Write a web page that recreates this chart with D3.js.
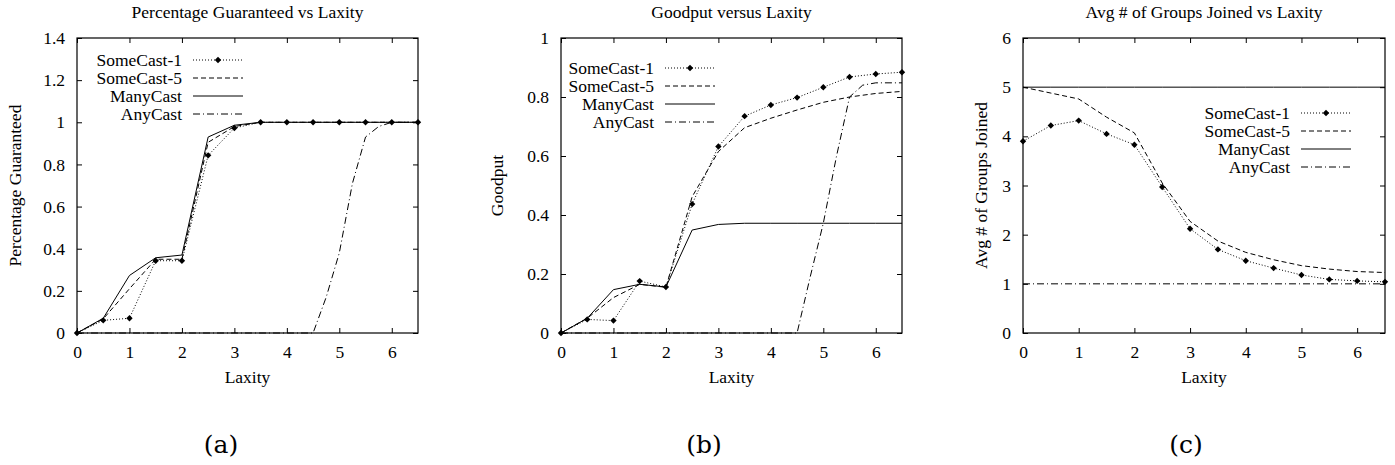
<!DOCTYPE html>
<html lang="en">
<meta charset="utf-8">
<head>
    <script src="https://d3js.org/d3.v7.min.js"></script>
    <style>
        body { margin: 0; background: #fff; }
        text { font-family: "Liberation Serif", "Times New Roman", serif; }
    </style>
</head>
<body>
<div id="chart"></div>
<script>
// laxity values for the series sampled every 0.5
const laxity = [0, 0.5, 1, 1.5, 2, 2.5, 3, 3.5, 4, 4.5, 5, 5.5, 6, 6.5];
const seriesNames = ['SomeCast-1', 'SomeCast-5', 'ManyCast', 'AnyCast'];
const xTicks = [0, 1, 2, 3, 4, 5, 6];

// (a) Percentage Guaranteed
const pgSome1 = [0, 0.06, 0.07, 0.343, 0.343, 0.843, 0.973, 1, 1, 1, 1, 1, 1, 1];
const pgSome5 = [0, 0.067, 0.21, 0.35, 0.35, 0.905, 0.98, 1, 1, 1, 1, 1, 1, 1];
const pgMany  = [0, 0.07, 0.273, 0.357, 0.37, 0.93, 0.986, 1, 1, 1, 1, 1, 1, 1];
const pgAnyLax = [0, 4.5, 4.75, 5, 5.25, 5.5, 5.75, 6, 6.5];
const pgAny    = [0, 0, 0.17, 0.38, 0.71, 0.93, 0.98, 1, 1];
const pgYTicks = [0, 0.2, 0.4, 0.6, 0.8, 1, 1.2, 1.4];

// (b) Goodput
const gpSome1 = [0, 0.046, 0.042, 0.176, 0.156, 0.437, 0.632, 0.735, 0.773, 0.798, 0.833, 0.868, 0.878, 0.884];
const gpSome5 = [0, 0.05, 0.12, 0.165, 0.155, 0.462, 0.615, 0.696, 0.728, 0.756, 0.782, 0.80, 0.812, 0.819];
const gpMany  = [0, 0.05, 0.147, 0.165, 0.156, 0.349, 0.368, 0.372, 0.372, 0.372, 0.372, 0.372, 0.372, 0.372];
const gpAnyLax = [0, 4.5, 4.75, 5, 5.25, 5.5, 5.75, 6, 6.5];
const gpAny    = [0, 0, 0.19, 0.372, 0.598, 0.80, 0.84, 0.848, 0.848];
const gpYTicks = [0, 0.2, 0.4, 0.6, 0.8, 1];

// (c) Avg # of Groups Joined
const grSome1 = [3.90, 4.22, 4.32, 4.05, 3.83, 2.97, 2.12, 1.70, 1.47, 1.32, 1.18, 1.09, 1.06, 1.04];
const grSome5 = [5.0, 4.88, 4.76, 4.39, 4.07, 3.05, 2.27, 1.87, 1.64, 1.49, 1.37, 1.30, 1.25, 1.23];
const grMany  = [5, 5, 5, 5, 5, 5, 5, 5, 5, 5, 5, 5, 5, 5];
const grAnyLax = [0, 6.5];
const grAny    = [1, 1];
const grYTicks = [0, 1, 2, 3, 4, 5, 6];

const zip = (xs, ys) => xs.map((x, i) => ({ x: x, y: ys[i] }));

const panels = [
    { title: 'Percentage Guaranteed vs Laxity', ylabel: 'Percentage Guaranteed', tag: '(a)',
      left: 77, right: 418, ymax: 1.4, yTicks: pgYTicks, fmt: d3.format('~g'),
      series: [zip(laxity, pgSome1), zip(laxity, pgSome5), zip(laxity, pgMany), zip(pgAnyLax, pgAny)],
      legX: 182, legY: 60, ylabX: 20.5, tagX: 221 },
    { title: 'Goodput versus Laxity', ylabel: 'Goodput', tag: '(b)',
      left: 561, right: 902, ymax: 1, yTicks: gpYTicks, fmt: d3.format('~g'),
      series: [zip(laxity, gpSome1), zip(laxity, gpSome5), zip(laxity, gpMany), zip(gpAnyLax, gpAny)],
      legX: 654, legY: 68, ylabX: 503, tagX: 704 },
    { title: 'Avg # of Groups Joined vs Laxity', ylabel: 'Avg # of Groups Joined', tag: '(c)',
      left: 1023, right: 1385, ymax: 6, yTicks: grYTicks, fmt: d3.format('d'),
      series: [zip(laxity, grSome1), zip(laxity, grSome5), zip(laxity, grMany), zip(grAnyLax, grAny)],
      legX: 1290, legY: 113, ylabX: 987, tagX: 1186 }
];

const plotTop = 38, plotBottom = 333;
const fs = 17.5;
const dashes = ['1,2', '5,3', null, '7,3,1,3'];
const diamond = d3.symbol().type(d3.symbolDiamond2).size(26);

const svg = d3.select('#chart').append('svg')
    .attr('width', 1395).attr('height', 465);

panels.forEach(p => {
    const x = d3.scaleLinear().domain([0, 6.5]).range([p.left, p.right]);
    const y = d3.scaleLinear().domain([0, p.ymax]).range([plotBottom, plotTop]);
    const g = svg.append('g');
    const cx = (p.left + p.right) / 2;

    // ticks on all four sides, pointing in
    const bx = g.append('g').attr('transform', `translate(0,${plotBottom})`)
        .call(d3.axisBottom(x).tickValues(xTicks).tickSize(-5).tickPadding(12.5).tickFormat(d3.format('d')));
    const tx = g.append('g').attr('transform', `translate(0,${plotTop})`)
        .call(d3.axisTop(x).tickValues(xTicks).tickSize(-5).tickFormat(''));
    const ly = g.append('g').attr('transform', `translate(${p.left},0)`)
        .call(d3.axisLeft(y).tickValues(p.yTicks).tickSize(-5).tickPadding(12).tickFormat(p.fmt));
    const ry = g.append('g').attr('transform', `translate(${p.right},0)`)
        .call(d3.axisRight(y).tickValues(p.yTicks).tickSize(-5).tickFormat(''));
    [bx, tx, ly, ry].forEach(a => {
        a.select('.domain').remove();
        a.selectAll('line').attr('stroke', '#000');
        a.selectAll('text').attr('font-size', fs).attr('fill', '#000')
            .style('font-family', '"Liberation Serif", serif');
    });

    g.append('rect')
        .attr('x', p.left).attr('y', plotTop)
        .attr('width', p.right - p.left).attr('height', plotBottom - plotTop)
        .attr('fill', 'none').attr('stroke', '#000').attr('stroke-width', 1.2);

    // lines
    const line = d3.line().x(d => x(d.x)).y(d => y(d.y));
    p.series.forEach((s, i) => {
        g.append('path').datum(s)
            .attr('fill', 'none').attr('stroke', '#000').attr('stroke-width', 1)
            .attr('stroke-dasharray', dashes[i])
            .attr('d', line);
    });
    g.selectAll('.pt').data(p.series[0]).enter().append('path')
        .attr('transform', d => `translate(${x(d.x)},${y(d.y)})`)
        .attr('d', diamond).attr('fill', '#000');

    // legend
    seriesNames.forEach((name, i) => {
        const ry0 = p.legY + i * 18;
        g.append('text').attr('x', p.legX).attr('y', ry0).attr('dy', '0.35em')
            .attr('text-anchor', 'end').attr('font-size', fs).text(name);
        g.append('line')
            .attr('x1', p.legX + 11).attr('x2', p.legX + 61)
            .attr('y1', ry0).attr('y2', ry0)
            .attr('stroke', '#000').attr('stroke-width', 1)
            .attr('stroke-dasharray', dashes[i]);
        if (i === 0) {
            g.append('path').attr('transform', `translate(${p.legX + 36},${ry0})`)
                .attr('d', diamond).attr('fill', '#000');
        }
    });

    // titles and labels
    g.append('text').attr('x', cx).attr('y', 17.5)
        .attr('text-anchor', 'middle').attr('font-size', fs).text(p.title);
    g.append('text').attr('x', cx).attr('y', 383)
        .attr('text-anchor', 'middle').attr('font-size', fs).text('Laxity');
    g.append('text')
        .attr('transform', `translate(${p.ylabX},${(plotTop + plotBottom) / 2}) rotate(-90)`)
        .attr('text-anchor', 'middle').attr('font-size', fs).text(p.ylabel);
    g.append('text').attr('x', p.tagX).attr('y', 453)
        .attr('text-anchor', 'middle').attr('font-size', 25)
        .style('font-family', '"DejaVu Serif", serif').text(p.tag);
});
</script>
</body>
</html>
